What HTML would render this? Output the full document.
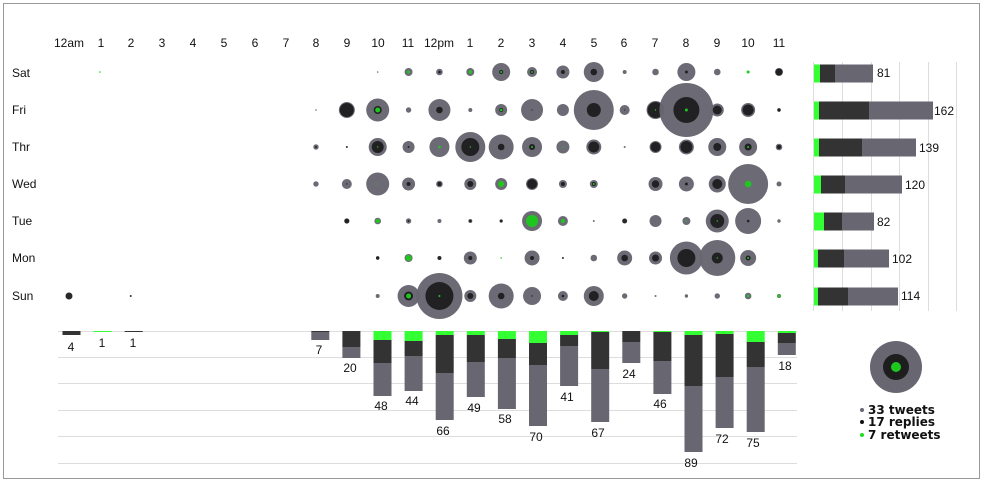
<!DOCTYPE html>
<html><head><meta charset="utf-8"><style>
html,body{margin:0;padding:0;background:#fff;}
svg{display:block;font-family:"Liberation Sans",sans-serif;}
.t{font-size:12px;fill:#111;}
.lg{font-family:"DejaVu Sans",sans-serif;font-size:12px;font-weight:bold;fill:#111;}
</style></head><body>
<svg id="s" width="984" height="481" viewBox="0 0 984 481" xmlns="http://www.w3.org/2000/svg">
<rect x="3.5" y="3.5" width="976" height="475" fill="#fff" stroke="#999" stroke-width="1"/>
<g id="grid"></g>
<g class="t" text-anchor="middle">
<text x="69" y="47">12am</text><text x="101" y="47">1</text><text x="131" y="47">2</text><text x="162" y="47">3</text><text x="193" y="47">4</text><text x="224" y="47">5</text><text x="255" y="47">6</text><text x="286" y="47">7</text><text x="316" y="47">8</text><text x="347" y="47">9</text><text x="378" y="47">10</text><text x="408" y="47">11</text><text x="439" y="47">12pm</text><text x="470" y="47">1</text><text x="501" y="47">2</text><text x="532" y="47">3</text><text x="563" y="47">4</text><text x="594" y="47">5</text><text x="624" y="47">6</text><text x="655" y="47">7</text><text x="686" y="47">8</text><text x="717" y="47">9</text><text x="748" y="47">10</text><text x="779" y="47">11</text>
</g>
<g class="t">
<text x="12" y="77">Sat</text><text x="12" y="114">Fri</text><text x="12" y="151">Thr</text><text x="12" y="188">Wed</text><text x="12" y="225">Tue</text><text x="12" y="262">Mon</text><text x="12" y="300">Sun</text>
</g>
<g id="circ"></g>
<g id="bars"></g>
<g class="t" text-anchor="middle">
<text x="71" y="351">4</text><text x="102" y="347">1</text><text x="133" y="347">1</text>
<text x="319" y="354">7</text><text x="350" y="372">20</text><text x="381" y="410">48</text><text x="412" y="405">44</text><text x="443" y="435">66</text><text x="474" y="412">49</text><text x="505" y="423">58</text><text x="536" y="441">70</text><text x="567" y="401">41</text><text x="598" y="437">67</text><text x="629" y="378">24</text><text x="660" y="408">46</text><text x="691" y="467">89</text><text x="722" y="443">72</text><text x="753" y="447">75</text><text x="785" y="370">18</text>
</g>
<g class="t">
<text x="877" y="77">81</text><text x="934" y="115">162</text><text x="919" y="152">139</text><text x="905" y="189">120</text><text x="877" y="226">82</text><text x="892" y="263">102</text><text x="901" y="300">114</text>
</g>
<circle cx="896" cy="367" r="26" fill="#676671"/>
<circle cx="896" cy="367" r="13" fill="#1e1e1f"/>
<circle cx="896" cy="367" r="5" fill="#1ec71e"/>
<circle cx="862" cy="410" r="2" fill="#676671"/><circle cx="862" cy="422" r="2" fill="#111"/><circle cx="862" cy="435" r="2" fill="#22dd22"/>
<text class="lg" x="868" y="414">33 tweets</text>
<text class="lg" x="868" y="426">17 replies</text>
<text class="lg" x="868" y="439">7 retweets</text>
</svg>
<script>
var NS="http://www.w3.org/2000/svg";
function el(p,n,a){var e=document.createElementNS(NS,n);for(var k in a)e.setAttribute(k,a[k]);document.getElementById(p).appendChild(e);return e;}
var G="#676671",D="#1e1e1f",GR="#1ec71e";
[331,357,383,410,436,463].forEach(function(y){el("grid","line",{x1:58,x2:797,y1:y+.5,y2:y+.5,stroke:"#ddd"});});
[813,842,871,899,928,956].forEach(function(x){el("grid","line",{x1:x+.5,x2:x+.5,y1:62,y2:311,stroke:"#ddd"});});
function hx(h){return 69+h*30.87;}
function bx(h){return 71.5+h*31.1;}
var rows=[72,110,147,184,221,258,296];
var data=[
[[1,0,0,0.8],[10,0.8,0,0],[11,4,0,1.5],[12,3.3,1.3,0],[13,4,0,1.7],[14,9,2,1],[15,5,2,1],[16,6.5,2,0],[17,10,3.3,0],[18,2,0,0],[19,3.3,0,0],[20,9,1.5,0],[21,3.3,0,0],[22,0,0,1.5],[23,4,3.5,0]],
[[8,0.8,0,0],[9,8,7,0],[10,11.5,4,2.5],[11,2.7,0,0],[12,11,3.3,0],[13,2,0,0],[14,6,2,1.3],[15,11,0.6,0],[16,6,0,0],[17,20,7,0],[18,5,0.6,0],[19,9,8,0.7],[20,27,13,1.5],[21,6.5,4.5,0],[22,7,5.5,0],[23,1.7,1.7,0]],
[[8,2.7,1,0],[9,0,1,0],[10,9,6,0.7],[11,6,1,0],[12,10,0,1.3],[13,15,9,0.7],[14,12.5,3.3,0],[15,10,3,1],[16,6.5,0,0.6],[17,7.5,5.5,0],[18,1,0,0],[19,6,5,0],[20,7.5,6,0],[21,9,4,0],[22,9,3.5,1],[23,3.3,2,0]],
[[8,2.7,0,0],[9,5,0.7,0],[10,11.5,0,0.6],[11,6.5,2,0],[12,3.3,2,0],[13,6,3,0],[14,6,0,3],[15,6,5,0],[16,4,2,0],[17,4,2,1],[19,7,3.7,0],[20,7.5,1.5,0],[21,8.5,5,0],[22,20,0,3.3],[23,2.5,0,0]],
[[9,2.7,2.3,0],[10,3.3,0,2],[11,2.7,1,0],[12,2,0,0],[13,2,1.3,0],[14,1.7,1.3,0],[15,10,0,6],[16,5,0,2],[17,1,0,0],[18,0,2.5,0],[19,6,0,0],[20,4,0,0.7],[21,11.5,7,0.7],[22,13,1.3,0],[23,1.7,0,0]],
[[10,1.7,1.7,0],[11,4,0,3],[12,0,2,0],[13,6.5,2,0],[14,0,0,0.8],[15,7.5,2,0],[16,0,1,0],[17,3.3,0,0],[18,7.5,3.3,0],[19,6.5,3.5,0],[20,16.5,9,0],[21,18,5.5,0.7],[22,8,2.5,1]],
[[0,0,3.5,0],[2,0,1,0],[10,2,0,0],[11,11,4.5,2.5],[12,23,14,1],[13,6,3,0],[14,12.5,3.3,0],[15,9,0.7,0],[16,5,1.3,0],[17,10,5,0],[18,2.7,0,0],[19,1,0,0],[20,1.7,0,0],[21,2.7,0,0],[22,3.3,0,1.3],[23,2,0,1.5]]
];
data.forEach(function(r,i){r.forEach(function(c){var x=hx(c[0]),y=rows[i];
if(c[1])el("circ","circle",{cx:x,cy:y,r:c[1],fill:G,"fill-opacity":0.97});
if(c[2])el("circ","circle",{cx:x,cy:y,r:c[2],fill:D,"fill-opacity":0.95});
if(c[3])el("circ","circle",{cx:x,cy:y,r:c[3],fill:GR});});});
var bb=[[0,331,335,335],[1,332,332,332],[2,331,332,332],[8,331,332,340],[9,331,347,358],[10,340,363,396],[11,341,356,391],[12,335,373,420],[13,335,362,397],[14,339,358,409],[15,343,365,426],[16,335,346,386],[17,332,369,422],[18,331,342,363],[19,332,361,394],[20,335,386,452],[21,334,377,428],[22,342,367,432],[23,333,343,355]];
bb.forEach(function(b){var x=bx(b[0])-9,w=18,y0=331;
if(b[1]>y0)el("bars","rect",{x:x,y:y0,width:w,height:b[1]-y0,fill:"#33ff33"});
if(b[2]>b[1])el("bars","rect",{x:x,y:b[1],width:w,height:b[2]-b[1],fill:"#333"});
if(b[3]>b[2])el("bars","rect",{x:x,y:b[2],width:w,height:b[3]-b[2],fill:G});});
var rb=[[820,835,873],[819,869,933],[819,862,916],[821,845,902],[824,842,874],[818,844,889],[818,848,898]];
rb.forEach(function(b,i){var y=rows[i]-8.5+(i==0?1:0),h=18,x0=814;
el("bars","rect",{x:x0,y:y,width:b[0]-x0,height:h,fill:"#33ff33"});
el("bars","rect",{x:b[0],y:y,width:b[1]-b[0],height:h,fill:"#333"});
el("bars","rect",{x:b[1],y:y,width:b[2]-b[1],height:h,fill:G});});
</script>
</body></html>
